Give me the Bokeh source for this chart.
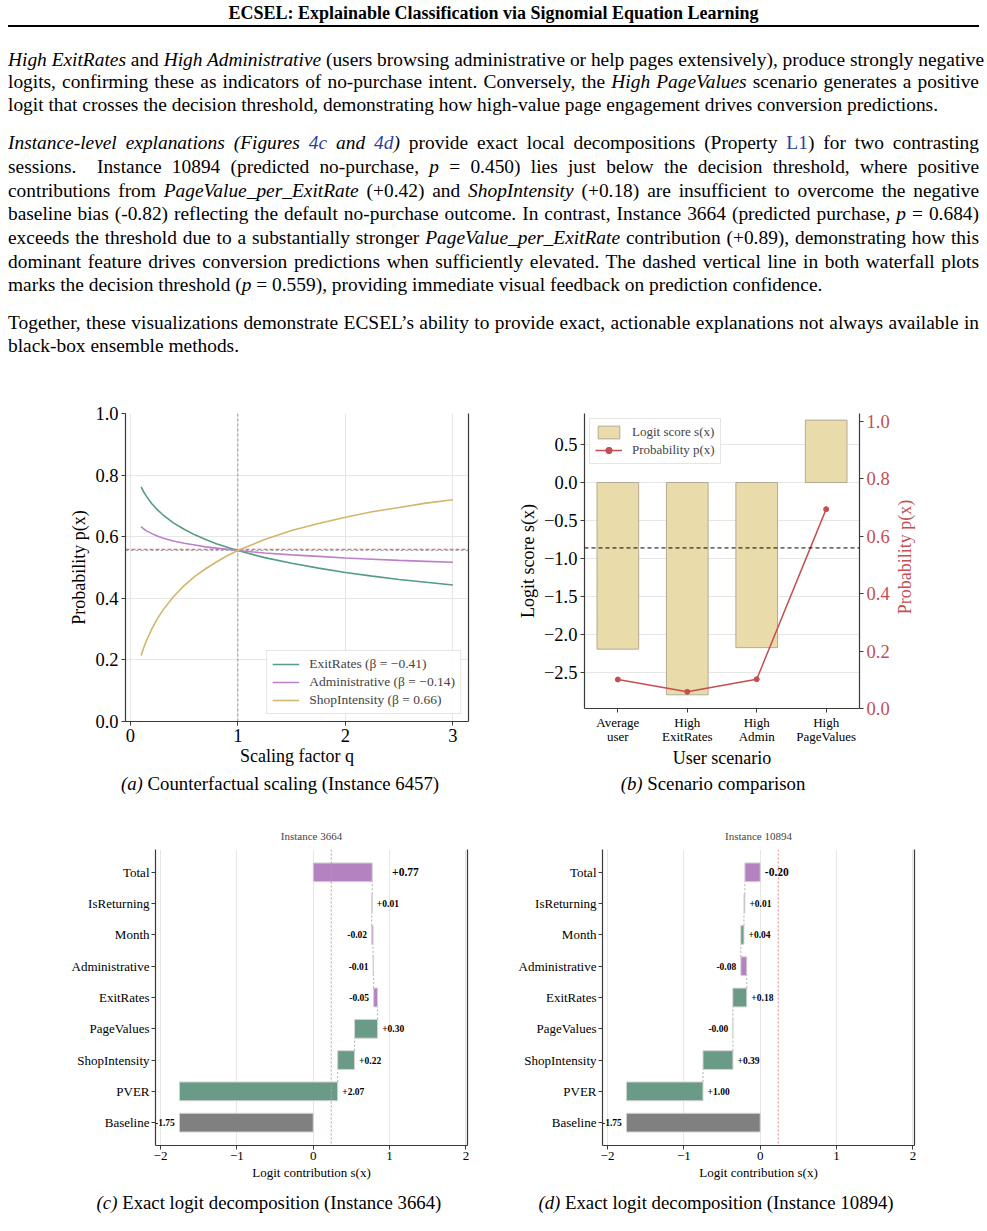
import math
from bokeh.plotting import figure
from bokeh.models import (Range1d, LinearAxis, FixedTicker, CustomJSTickFormatter,
                          Span, Legend, LegendItem, Div, ColumnDataSource)
from bokeh.layouts import column, row
from bokeh.core.properties import value
from bokeh.embed import file_html
from bokeh.resources import INLINE

# ---------------- data ----------------
q_values = [0.1, 0.125, 0.15, 0.2, 0.25, 0.3, 0.4, 0.5, 0.6, 0.7, 0.8, 0.9, 1.0,
            1.25, 1.5, 1.75, 2.0, 2.25, 2.5, 2.75, 3.0]
p_exit_rates = [0.762, 0.745, 0.731, 0.707, 0.688, 0.672, 0.645, 0.624, 0.606, 0.591, 0.577,
                0.566, 0.555, 0.532, 0.514, 0.498, 0.484, 0.472, 0.461, 0.452, 0.443]
p_administrative = [0.633, 0.625, 0.619, 0.610, 0.602, 0.596, 0.586, 0.579, 0.573, 0.567, 0.563,
                    0.559, 0.555, 0.547, 0.541, 0.536, 0.531, 0.527, 0.523, 0.520, 0.517]
p_shop_intensity = [0.214, 0.240, 0.263, 0.301, 0.333, 0.360, 0.405, 0.441, 0.471, 0.496, 0.518,
                    0.538, 0.555, 0.591, 0.620, 0.643, 0.663, 0.681, 0.695, 0.709, 0.720]
series_names = ["ExitRates", "Administrative", "ShopIntensity"]
series_betas = ["\u22120.41", "\u22120.14", "0.66"]
p_at_q1 = 0.555
threshold_p = 0.559
threshold_logit = 0.237

scenario_labels = ["Average\nuser", "High\nExitRates", "High\nAdmin", "High\nPageValues"]
scenario_logits = [-2.19, -2.79, -2.17, 0.82]
scenario_probs = [0.101, 0.058, 0.102, 0.694]

wf_features = ["Baseline", "PVER", "ShopIntensity", "PageValues", "ExitRates",
               "Administrative", "Month", "IsReturning"]
wf_3664 = [-1.752, 2.072, 0.221, 0.302, -0.052, -0.008, -0.018, 0.008]
wf_10894 = [-1.752, 1.003, 0.392, -0.002, 0.183, -0.078, 0.041, 0.012]

# ---------------- styles ----------------
SERIF = "Liberation Serif"
SPINE = "#3a3a3a"
GRID = "#e6e6e6"
C_EXIT = "#559c80"
C_ADMIN = "#bd7fcc"
C_SHOP = "#d3b56c"
C_RED = "#c44e52"
C_BAR = "#e9dbaa"
C_GREEN = "#6a9b87"
C_PURPLE = "#b482c0"
C_GRAY = "#808080"


def fmt(decimals):
    return CustomJSTickFormatter(code=(
        "var s = Math.abs(tick).toFixed(%d); return (tick < -1e-9 ? '\\u2212' : '') + s;" % decimals))


def style_axis(ax, tick_size, label_size):
    ax.axis_line_color = SPINE
    ax.axis_line_width = 1.2
    ax.major_tick_line_color = SPINE
    ax.major_tick_out = 4
    ax.major_tick_in = 0
    ax.minor_tick_out = 0
    ax.minor_tick_in = 0
    ax.major_label_text_font = SERIF
    ax.major_label_text_font_size = tick_size
    ax.major_label_text_color = "black"
    ax.major_label_standoff = 3
    ax.axis_label_text_font = SERIF
    ax.axis_label_text_font_size = label_size
    ax.axis_label_text_font_style = "normal"
    ax.axis_label_text_color = "black"
    ax.axis_label_standoff = 3


def base(p):
    p.outline_line_color = None
    p.background_fill_color = "white"
    p.border_fill_color = "white"
    p.grid.grid_line_color = GRID
    p.grid.grid_line_width = 1


def right_spine(p):
    ax = LinearAxis(ticker=FixedTicker(ticks=[]), axis_line_color=SPINE, axis_line_width=1.2,
                    major_tick_line_color=None, minor_tick_line_color=None,
                    major_label_text_font_size="0px")
    p.add_layout(ax, "right")


def legend_style(lg):
    lg.label_text_font = SERIF
    lg.label_text_font_size = "13.5px"
    lg.glyph_width = 27
    lg.glyph_height = 16
    lg.label_height = 16
    lg.label_standoff = 10
    lg.padding = 5
    lg.spacing = 2
    lg.border_line_color = "#cccccc"
    lg.border_line_width = 1
    lg.background_fill_alpha = 0.85


# ---------------- (a) counterfactual scaling ----------------
pa = figure(frame_width=343, frame_height=308, min_border_left=117, min_border_right=22,
            min_border_top=43, min_border_bottom=56,
            x_range=Range1d(-0.045, 3.145), y_range=Range1d(0, 1),
            output_backend="svg", toolbar_location=None, margin=0)
base(pa)
for ax in pa.axis:
    style_axis(ax, "18.5px", "18px")
pa.xaxis.ticker = FixedTicker(ticks=[0, 1, 2, 3])
pa.yaxis.ticker = FixedTicker(ticks=[0, 0.2, 0.4, 0.6, 0.8, 1.0])
pa.xaxis.formatter = fmt(0)
pa.yaxis.formatter = fmt(1)
pa.xaxis.axis_label = "Scaling factor q"
pa.yaxis.axis_label = "Probability p(x)"
pa.xaxis.axis_label_standoff = 1
right_spine(pa)

pa.add_layout(Span(location=1.0, dimension="height", line_color="#9a9a9a",
                   line_dash="3 2", line_width=1, level="underlay"))
pa.add_layout(Span(location=p_at_q1, dimension="width", line_color="#aaaaaa",
                   line_dash="3 2", line_width=1, level="underlay"))
pa.add_layout(Span(location=threshold_p, dimension="width", line_color="#e06666",
                   line_dash="4 2", line_width=1.3, line_alpha=0.9, level="underlay"))

ra = []
for ys, col in zip([p_exit_rates, p_administrative, p_shop_intensity], [C_EXIT, C_ADMIN, C_SHOP]):
    ra.append(pa.line(q_values, ys, line_color=col, line_width=1.6))
lga = Legend(items=[LegendItem(label=f"{n} (\u03b2 = {b})", renderers=[r])
                    for n, b, r in zip(series_names, series_betas, ra)],
             location="bottom_right", margin=7)
legend_style(lga)
pa.add_layout(lga)

# ---------------- (b) scenario comparison ----------------
# frame tops of plots in a row are aligned by Bokeh, so the frame starts at the same
# height as (a) and the ranges are set so the data sits where the reference shows it
pb = figure(frame_width=275, frame_height=295, min_border_left=94, min_border_right=80,
            min_border_top=43, min_border_bottom=69,
            x_range=Range1d(-0.48, 3.48), y_range=Range1d(-2.97, 0.907),
            output_backend="svg", toolbar_location=None, margin=0)
pb.extra_y_ranges = {"prob": Range1d(0, 1.027)}
base(pb)
pb.xgrid.grid_line_color = None
for ax in pb.axis:
    style_axis(ax, "18.5px", "18px")
pb.xaxis.ticker = FixedTicker(ticks=[0, 1, 2, 3])
pb.xaxis.major_label_overrides = {i: s for i, s in enumerate(scenario_labels)}
pb.xaxis.major_label_text_font_size = "13px"
pb.xaxis.major_label_text_line_height = 0.95
pb.xaxis.major_label_standoff = 2
pb.xaxis.axis_label_standoff = 1
pb.xaxis.axis_label = "User scenario"
pb.yaxis.ticker = FixedTicker(ticks=[0.5, 0.0, -0.5, -1.0, -1.5, -2.0, -2.5])
pb.yaxis.formatter = fmt(1)
pb.yaxis.axis_label = "Logit score s(x)"

axr = LinearAxis(y_range_name="prob")
style_axis(axr, "18.5px", "18px")
axr.ticker = FixedTicker(ticks=[0, 0.2, 0.4, 0.6, 0.8, 1.0])
axr.formatter = fmt(1)
axr.major_label_text_color = C_RED
pb.add_layout(axr, "right")

bars = pb.vbar(x=list(range(len(scenario_logits))), top=scenario_logits, bottom=0, width=0.6,
               fill_color=C_BAR, line_color="#b3ab94", line_width=1)
pb.add_layout(Span(location=threshold_p, dimension="width", y_range_name="prob",
                   line_color="black", line_dash="4 3", line_width=1))
pline = pb.line(list(range(len(scenario_probs))), scenario_probs, y_range_name="prob",
                line_color=C_RED, line_width=1.5)
ppts = pb.scatter(list(range(len(scenario_probs))), scenario_probs, y_range_name="prob",
                  size=5, fill_color=C_RED, line_color=C_RED)
lgb = Legend(items=[LegendItem(label="Logit score s(x)", renderers=[bars]),
                    LegendItem(label="Probability p(x)", renderers=[pline, ppts])],
             location="top_left", margin=5)
legend_style(lgb)
lgb.label_text_font_size = "13px"
pb.add_layout(lgb)


# ---------------- (c), (d) waterfall ----------------
def waterfall(contribs, title, min_left):
    names = wf_features + ["Total"]
    starts, ends = [], []
    cum = 0.0
    for v in contribs:
        starts.append(cum)
        cum += v
        ends.append(cum)
    total = cum
    starts.append(0.0)
    ends.append(total)
    colors = [C_GRAY] + [C_GREEN if v >= 0 else C_PURPLE for v in contribs[1:]] + [C_PURPLE]
    idx = list(range(len(names)))

    p = figure(frame_width=312, frame_height=296, min_border_left=min_left, min_border_right=22,
               min_border_top=49, min_border_bottom=40,
               x_range=Range1d(-2.065, 2.02), y_range=Range1d(-0.73, 8.73),
               output_backend="svg", toolbar_location=None, margin=0, title=title)
    base(p)
    p.ygrid.grid_line_color = None
    for ax in p.axis:
        style_axis(ax, "13px", "13px")
    p.xaxis.ticker = FixedTicker(ticks=[-2, -1, 0, 1, 2])
    p.xaxis.formatter = fmt(0)
    p.xaxis.axis_label = "Logit contribution s(x)"
    p.xaxis.major_label_standoff = 2
    p.xaxis.axis_label_standoff = 2
    p.yaxis.ticker = FixedTicker(ticks=idx)
    p.yaxis.major_label_overrides = {i: n for i, n in enumerate(names)}
    p.yaxis.major_label_standoff = 2
    p.title.text_font = SERIF
    p.title.text_font_size = "11px"
    p.title.text_font_style = "normal"
    p.title.align = "center"
    p.title.standoff = 15
    right_spine(p)

    src = ColumnDataSource(dict(y=idx, left=[min(a, b) for a, b in zip(starts, ends)],
                                right=[max(a, b) for a, b in zip(starts, ends)], color=colors))
    p.hbar(y="y", left="left", right="right", height=0.6, fill_color="color",
           line_color="#d4d4d4", line_width=1, source=src)
    # connectors
    cx = [ends[i] for i in range(1, len(contribs))]
    cy0 = [i + 0.3 for i in range(1, len(contribs))]
    cy1 = [i + 0.7 for i in range(1, len(contribs))]
    p.segment(x0=cx, y0=cy0, x1=cx, y1=cy1, line_color="#9a9a9a", line_width=0.8,
              line_dash="2 2")
    p.add_layout(Span(location=threshold_logit, dimension="height", line_color="#e88a8a",
                      line_dash="2 2", line_width=1))
    # labels
    lx, ly, lt, rx, ry, rt = [], [], [], [], [], []
    for i, v in enumerate(contribs):
        lo, hi = min(starts[i], ends[i]), max(starts[i], ends[i])
        if v >= 0:
            lx.append(hi + 0.06); ly.append(i); lt.append(f"{v:+.2f}")
        else:
            rx.append(lo - 0.06); ry.append(i); rt.append(f"{v:+.2f}")
    p.text(x=lx, y=ly, text=lt, text_align="left", text_baseline="middle",
           text_font=value(SERIF), text_font_style="bold", text_font_size="9.5px",
           text_color="black")
    p.text(x=rx, y=ry, text=rt, text_align="right", text_baseline="middle",
           text_font=value(SERIF), text_font_style="bold", text_font_size="9.5px",
           text_color="black")
    tx = max(total, 0) + (0.26 if total > 0 else 0.06)
    p.text(x=[tx], y=[len(names) - 1], text=[f"{total:+.2f}"], text_align="left",
           text_baseline="middle", text_font=value(SERIF), text_font_style="bold",
           text_font_size="11.5px", text_color="black")
    return p


pc = waterfall(wf_3664, "Instance 3664", 147)
pd_ = waterfall(wf_10894, "Instance 10894", 113)

# ---------------- text blocks ----------------
BLUE = "#2b3f9e"


def bl(s):
    return f'<span style="color:{BLUE}">{s}</span>'


header = "ECSEL: Explainable Classification via Signomial Equation Learning"
para1 = [
    "<i>High ExitRates</i> and <i>High Administrative</i> (users browsing administrative or help pages extensively), produce strongly negative",
    "logits, confirming these as indicators of no-purchase intent. Conversely, the <i>High PageValues</i> scenario generates a positive",
    "logit that crosses the decision threshold, demonstrating how high-value page engagement drives conversion predictions.",
]
para2 = [
    f"<i>Instance-level explanations (Figures {bl('4c')} and {bl('4d')})</i> provide exact local decompositions (Property {bl('L1')}) for two contrasting",
    "sessions. &nbsp;Instance 10894 (predicted no-purchase, <i>p</i> = 0.450) lies just below the decision threshold, where positive",
    "contributions from <i>PageValue_per_ExitRate</i> (+0.42) and <i>ShopIntensity</i> (+0.18) are insufficient to overcome the negative",
    "baseline bias (-0.82) reflecting the default no-purchase outcome. In contrast, Instance 3664 (predicted purchase, <i>p</i> = 0.684)",
    "exceeds the threshold due to a substantially stronger <i>PageValue_per_ExitRate</i> contribution (+0.89), demonstrating how this",
    "dominant feature drives conversion predictions when sufficiently elevated. The dashed vertical line in both waterfall plots",
    "marks the decision threshold (<i>p</i> = 0.559), providing immediate visual feedback on prediction confidence.",
]
para3 = [
    "Together, these visualizations demonstrate ECSEL\u2019s ability to provide exact, actionable explanations not always available in",
    "black-box ensemble methods.",
]


def para_html(lines, top, lh):
    out = []
    for i, ln in enumerate(lines):
        align = "left" if i == len(lines) - 1 else "justify"
        out.append(f'<div style="height:{lh}px;line-height:{lh}px;white-space:nowrap;'
                   f'text-align:{align};text-align-last:{align};">{ln}</div>')
    return (f'<div style="position:absolute;left:0;top:{top}px;width:971px;">'
            + "".join(out) + "</div>")


top_html = (
    '<div style="position:relative;width:971px;height:362px;font-family:\'Liberation Serif\';'
    'font-size:19.4px;color:#000;">'
    f'<div style="position:absolute;left:0;top:-5px;width:971px;height:20px;line-height:20px;'
    f'text-align:center;font-weight:bold;font-size:18px;">{header}</div>'
    '<div style="position:absolute;left:0;top:17px;width:971px;height:2px;background:#000;"></div>'
    + para_html(para1, 40.75, 22.5)
    + para_html(para2, 123.2, 23.7)
    + para_html(para3, 302.5, 23)
    + '</div>'
)


def caps_html(items, center_y, height, extra=""):
    parts = [f'<div style="position:relative;width:971px;height:{height}px;'
             'font-family:\'Liberation Serif\';font-size:18.8px;color:#000;">']
    for cx, lab, txt in items:
        parts.append(f'<div style="position:absolute;left:{cx - 250}px;top:{center_y - 11}px;'
                     f'width:500px;height:22px;line-height:22px;text-align:center;white-space:nowrap;">'
                     f'<i>({lab})</i> {txt}</div>')
    parts.append(extra)
    parts.append('</div>')
    return "".join(parts)


# title of the right-hand (probability) axis of (b), rotated to read bottom-to-top;
# placed in the overlay just below the plots (it reaches up into the border of (b))
right_title = (f'<div style="position:absolute;left:{897 - 100}px;top:{-220 - 11}px;width:200px;'
               f'height:22px;line-height:22px;text-align:center;white-space:nowrap;'
               f'font-size:18px;color:{C_RED};transform:rotate(-90deg);z-index:10;">'
               f'Probability p(x)</div>')

top_div = Div(text=top_html, width=971, height=362, margin=0, styles={"overflow": "visible"})
cap1 = Div(text=caps_html([(272, "a", "Counterfactual scaling (Instance 6457)"),
                           (705, "b", "Scenario comparison")], 7, 23, right_title),
           width=971, height=23, margin=0, styles={"overflow": "visible", "z-index": "10"})
cap2 = Div(text=caps_html([(261, "c", "Exact logit decomposition (Instance 3664)"),
                           (708, "d", "Exact logit decomposition (Instance 10894)")], 18, 36),
           width=971, height=36, margin=0, styles={"overflow": "visible"})

layout = column(top_div, row(pa, pb, spacing=0, margin=0), cap1,
                row(pc, pd_, spacing=0, margin=0), cap2, spacing=0, margin=(8, 8, 0, 8))

with open("out.html", "w", encoding="utf-8") as f:
    f.write(file_html(layout, INLINE, title="ECSEL figure"))
